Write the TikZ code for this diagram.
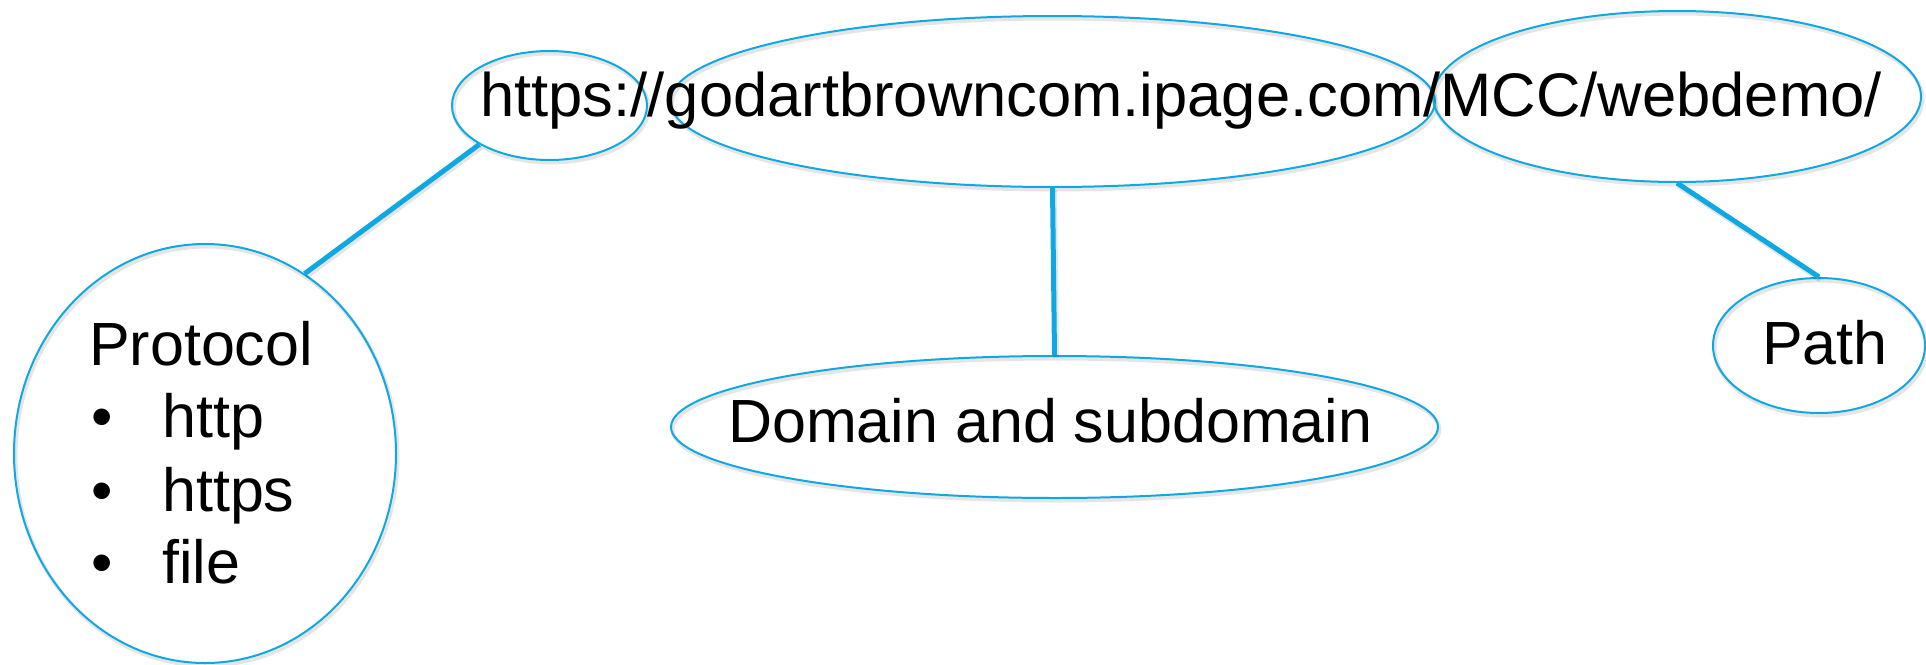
\documentclass[tikz,border=0pt]{standalone}
\usepackage{fontspec}
\setmainfont{Liberation Sans}
\usetikzlibrary{shapes.geometric}
\definecolor{linkblue}{RGB}{16,168,226}
\begin{document}
\begin{tikzpicture}[x=1pt,y=-1pt,
  oval/.style={ellipse, draw=linkblue, line width=2pt, inner sep=0pt,
    preaction={draw=black, draw opacity=0.10, line width=4pt,
      transform canvas={xshift=1.5pt,yshift=-2.5pt}}},
  lbl/.style={inner sep=0pt, anchor=base west, font=\fontsize{61}{73}\selectfont},
  bul/.style={inner sep=0pt, anchor=base, font=\fontsize{61}{73}\selectfont},
  link/.style={draw=linkblue, line width=5pt,
    preaction={draw=black, draw opacity=0.10, line width=6pt,
      transform canvas={xshift=1.5pt,yshift=-2.5pt}}}]
\useasboundingbox (0,0) rectangle (1926,664);
% ellipses of the URL
\node[oval, minimum width=195pt, minimum height=109pt] (us) at (549.5,105.5) {};
\node[oval, minimum width=765pt, minimum height=171pt] (ud) at (1052.5,101.5) {};
\node[oval, minimum width=488pt, minimum height=171pt] (up) at (1677,96.5) {};
% part ellipses
\node[oval, minimum width=382pt, minimum height=419pt] (prot) at (205,453.5) {};
\node[oval, minimum width=767pt, minimum height=142pt] (dom) at (1054.5,427) {};
\node[oval, minimum width=212pt, minimum height=135pt] (path) at (1819,345.5) {};
% texts
\node[lbl, font=\fontsize{61.5}{73}\selectfont] (url) at (480,116) {https://godartbrowncom.ipage.com/MCC/webdemo/};
\node[lbl] (tdom) at (728,442) {Domain and subdomain};
\node[lbl] (tpath) at (1762,364) {Path};
\node[lbl] (tprot) at (89,365) {Protocol};
\node[bul] (b1) at (102,437) {•};
\node[bul] (b2) at (102,511) {•};
\node[bul] (b3) at (102,583) {•};
\node[lbl] (i1) at (162,437) {http};
\node[lbl] (i2) at (162,511) {https};
\node[lbl] (i3) at (162,583) {file};
% connectors
\draw[link] (us.209) -- (prot.61.7);
\draw[link] (ud.south) -- (dom.north);
\draw[link] (up.south) -- (path.north);
\end{tikzpicture}
\end{document}
